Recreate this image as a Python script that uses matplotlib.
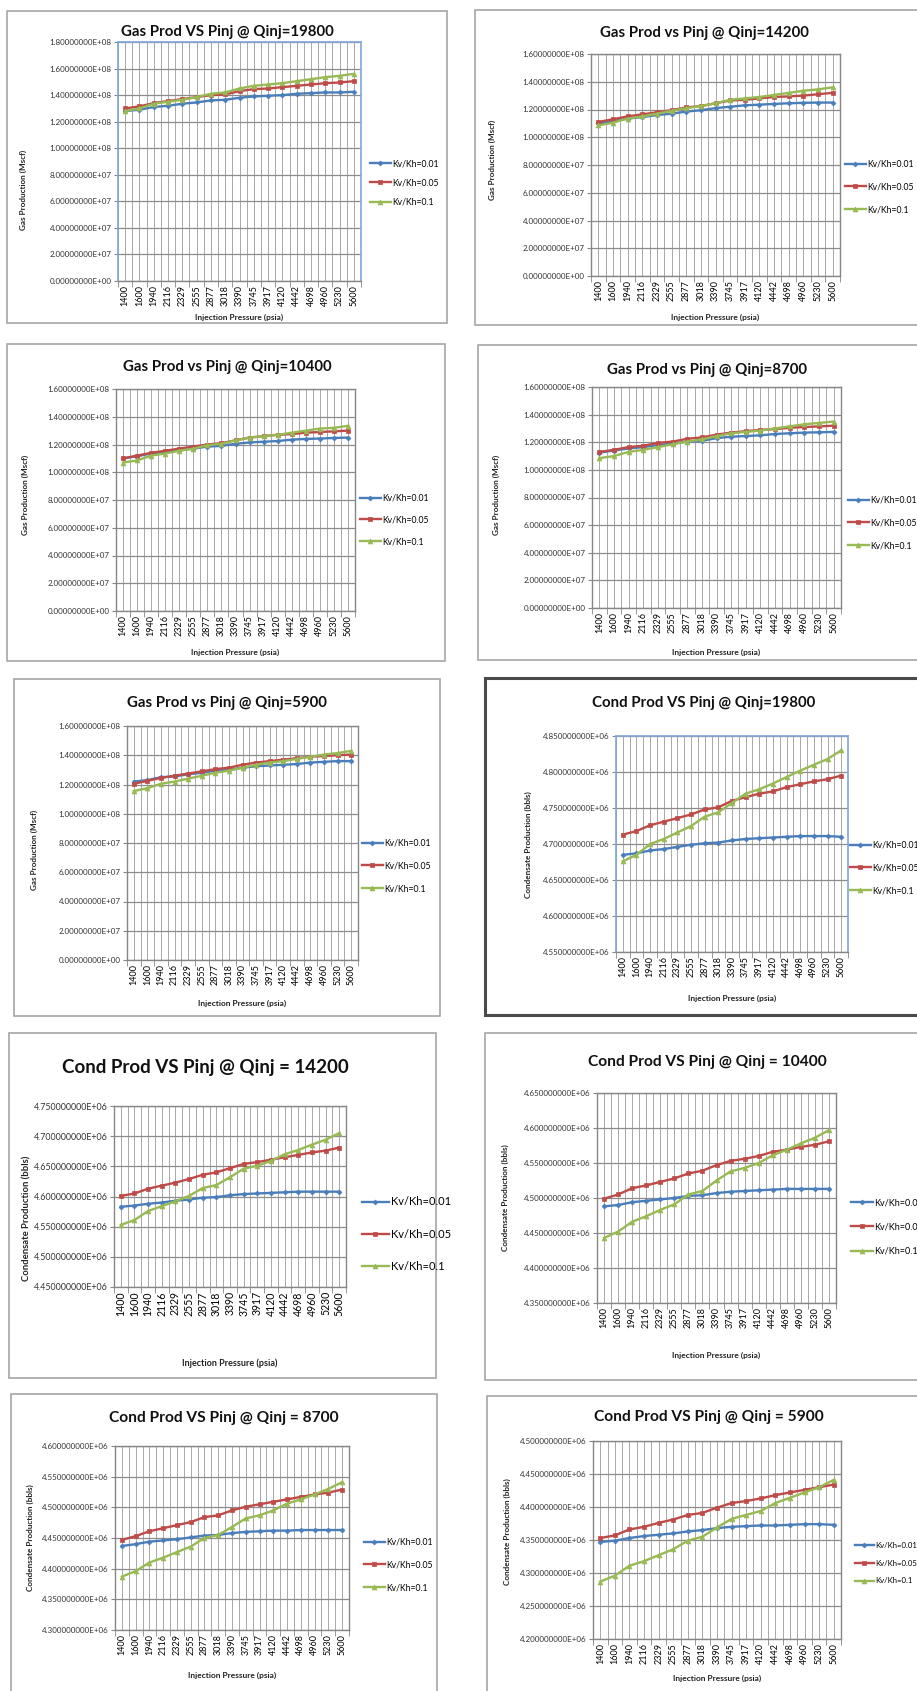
import numpy as np
import matplotlib.pyplot as plt
from matplotlib.patches import Rectangle
from matplotlib.ticker import FuncFormatter, FixedLocator

W, H = 917, 1691

pressures = ["1400", "1600", "1940", "2116", "2329", "2555", "2877", "3018", "3390",
             "3745", "3917", "4120", "4442", "4698", "4960", "5230", "5600"]
kvkh = ["Kv/Kh=0.01", "Kv/Kh=0.05", "Kv/Kh=0.1"]

# gas production, units of 1e8 Mscf
gas_19800_001 = [1.28, 1.29, 1.31, 1.32, 1.335, 1.345, 1.36, 1.365, 1.38, 1.39, 1.395, 1.40, 1.41, 1.415, 1.42, 1.42, 1.425]
gas_19800_005 = [1.30, 1.315, 1.34, 1.355, 1.37, 1.385, 1.40, 1.405, 1.43, 1.445, 1.45, 1.46, 1.47, 1.48, 1.49, 1.495, 1.505]
gas_19800_01 = [1.28, 1.30, 1.335, 1.35, 1.365, 1.385, 1.41, 1.42, 1.45, 1.47, 1.48, 1.49, 1.505, 1.52, 1.535, 1.545, 1.56]

gas_14200_001 = [1.10, 1.115, 1.135, 1.145, 1.16, 1.17, 1.185, 1.195, 1.21, 1.22, 1.23, 1.235, 1.24, 1.245, 1.248, 1.25, 1.25]
gas_14200_005 = [1.11, 1.13, 1.15, 1.165, 1.18, 1.195, 1.215, 1.225, 1.245, 1.265, 1.27, 1.28, 1.29, 1.295, 1.30, 1.31, 1.32]
gas_14200_01 = [1.085, 1.105, 1.135, 1.15, 1.17, 1.19, 1.21, 1.225, 1.245, 1.27, 1.28, 1.29, 1.305, 1.32, 1.335, 1.345, 1.36]

gas_10400_001 = [1.10, 1.115, 1.135, 1.145, 1.16, 1.17, 1.185, 1.19, 1.205, 1.215, 1.22, 1.225, 1.235, 1.24, 1.243, 1.247, 1.25]
gas_10400_005 = [1.10, 1.12, 1.14, 1.155, 1.17, 1.185, 1.20, 1.21, 1.23, 1.25, 1.26, 1.27, 1.275, 1.285, 1.29, 1.295, 1.30]
gas_10400_01 = [1.07, 1.085, 1.12, 1.135, 1.155, 1.17, 1.195, 1.205, 1.23, 1.25, 1.26, 1.27, 1.285, 1.30, 1.315, 1.32, 1.335]

gas_8700_001 = [1.125, 1.14, 1.155, 1.165, 1.18, 1.19, 1.205, 1.21, 1.23, 1.24, 1.245, 1.25, 1.26, 1.265, 1.27, 1.272, 1.275]
gas_8700_005 = [1.13, 1.145, 1.165, 1.175, 1.195, 1.205, 1.225, 1.235, 1.255, 1.27, 1.28, 1.29, 1.295, 1.305, 1.31, 1.315, 1.32]
gas_8700_01 = [1.085, 1.10, 1.13, 1.145, 1.165, 1.185, 1.205, 1.22, 1.245, 1.265, 1.275, 1.285, 1.30, 1.315, 1.33, 1.34, 1.35]

gas_5900_001 = [1.22, 1.23, 1.25, 1.255, 1.27, 1.28, 1.295, 1.30, 1.315, 1.325, 1.33, 1.335, 1.34, 1.35, 1.355, 1.36, 1.36]
gas_5900_005 = [1.205, 1.225, 1.245, 1.26, 1.275, 1.29, 1.305, 1.315, 1.335, 1.35, 1.36, 1.37, 1.38, 1.39, 1.395, 1.40, 1.405]
gas_5900_01 = [1.155, 1.175, 1.205, 1.22, 1.24, 1.26, 1.28, 1.295, 1.315, 1.335, 1.35, 1.36, 1.375, 1.39, 1.405, 1.415, 1.43]

# condensate production, units of 1e6 bbls
cond_19800_001 = [4.685, 4.687, 4.691, 4.693, 4.696, 4.699, 4.701, 4.702, 4.705, 4.707, 4.708, 4.709, 4.710, 4.711, 4.711, 4.711, 4.710]
cond_19800_005 = [4.713, 4.718, 4.726, 4.731, 4.736, 4.741, 4.748, 4.751, 4.760, 4.765, 4.770, 4.773, 4.779, 4.783, 4.787, 4.790, 4.795]
cond_19800_01 = [4.676, 4.685, 4.700, 4.707, 4.716, 4.725, 4.738, 4.744, 4.757, 4.770, 4.776, 4.784, 4.793, 4.802, 4.810, 4.818, 4.830]

cond_14200_001 = [4.583, 4.585, 4.588, 4.590, 4.593, 4.595, 4.598, 4.599, 4.602, 4.604, 4.605, 4.606, 4.607, 4.608, 4.608, 4.608, 4.608]
cond_14200_005 = [4.601, 4.605, 4.613, 4.618, 4.623, 4.629, 4.636, 4.640, 4.647, 4.654, 4.657, 4.661, 4.665, 4.669, 4.673, 4.676, 4.681]
cond_14200_01 = [4.553, 4.561, 4.576, 4.584, 4.592, 4.601, 4.614, 4.619, 4.632, 4.646, 4.651, 4.659, 4.670, 4.677, 4.686, 4.694, 4.705]

cond_10400_001 = [4.488, 4.490, 4.494, 4.496, 4.498, 4.500, 4.503, 4.504, 4.507, 4.509, 4.510, 4.511, 4.512, 4.513, 4.513, 4.513, 4.513]
cond_10400_005 = [4.499, 4.505, 4.514, 4.518, 4.523, 4.528, 4.535, 4.539, 4.547, 4.553, 4.556, 4.560, 4.566, 4.569, 4.573, 4.576, 4.581]
cond_10400_01 = [4.443, 4.452, 4.466, 4.474, 4.483, 4.491, 4.505, 4.510, 4.525, 4.538, 4.543, 4.550, 4.561, 4.569, 4.578, 4.586, 4.597]

cond_8700_001 = [4.437, 4.440, 4.444, 4.446, 4.448, 4.451, 4.454, 4.455, 4.458, 4.460, 4.461, 4.462, 4.462, 4.463, 4.463, 4.463, 4.463]
cond_8700_005 = [4.447, 4.453, 4.461, 4.466, 4.471, 4.476, 4.484, 4.487, 4.495, 4.501, 4.505, 4.509, 4.513, 4.517, 4.521, 4.524, 4.529]
cond_8700_01 = [4.387, 4.396, 4.410, 4.418, 4.427, 4.436, 4.450, 4.455, 4.468, 4.482, 4.487, 4.495, 4.506, 4.513, 4.521, 4.530, 4.541]

cond_5900_001 = [4.347, 4.349, 4.353, 4.356, 4.358, 4.360, 4.363, 4.365, 4.368, 4.370, 4.371, 4.372, 4.372, 4.373, 4.374, 4.374, 4.373]
cond_5900_005 = [4.353, 4.357, 4.366, 4.370, 4.376, 4.381, 4.388, 4.391, 4.399, 4.406, 4.409, 4.413, 4.418, 4.422, 4.426, 4.430, 4.434]
cond_5900_01 = [4.287, 4.296, 4.311, 4.318, 4.327, 4.336, 4.349, 4.355, 4.369, 4.382, 4.388, 4.394, 4.406, 4.414, 4.422, 4.430, 4.441]

colors = ["#4A7EBB", "#BE4B48", "#98B954"]
markers = ["D", "s", "^"]
msizes = [2.5, 3.5, 3.5]

plt.rcParams['font.family'] = ['Lato', 'DejaVu Sans']

fig = plt.figure(figsize=(W / 100, H / 100), dpi=100)
fig.patch.set_facecolor("white")


def fx(x):
    return x / W


def fy(y):
    return 1 - y / H


def chart(frame, plot, title, title_xy, tsize, ylabel, ylab_xy, xlab_y, leg_xy, leg_sp, lsize,
          series, scale, ylim, ystep, dec, blue_box=False, dark_frame=False, big=False):
    x0, y0, x1, y1 = frame
    ec = "#4A4A4A" if dark_frame else "#A6A6A6"
    fig.patches.append(Rectangle((fx(x0), fy(y1)), fx(x1) - fx(x0), fy(y0) - fy(y1),
                                 transform=fig.transFigure, facecolor="white", edgecolor=ec,
                                 linewidth=2.2 if dark_frame else 1.2, zorder=-5))
    px0, py0, px1, py1 = plot
    ax = fig.add_axes([fx(px0), fy(py1), fx(px1) - fx(px0), fy(py0) - fy(py1)])
    xs = np.arange(len(pressures)) + 0.5
    handles = []
    for s, c, m, ms in zip(series, colors, markers, msizes):
        h, = ax.plot(xs, np.array(s) * scale, color=c, lw=1.7, marker=m, ms=ms,
                     markeredgewidth=0.5, clip_on=False)
        handles.append(h)
    ax.set_xlim(0, len(pressures))
    ax.set_ylim(ylim[0] * scale, ylim[1] * scale)
    yt = np.arange(ylim[0], ylim[1] + ystep / 2, ystep) * scale
    ax.yaxis.set_major_locator(FixedLocator(yt))
    ax.yaxis.set_major_formatter(FuncFormatter(lambda v, _: f"{v:.{dec}E}"))
    ax.set_xticks(xs)
    ax.set_xticklabels(pressures, rotation=90, fontsize=7.6 if big else 6.5)
    ax.xaxis.set_minor_locator(FixedLocator(np.arange(len(pressures) + 1)))
    ax.tick_params(axis="x", which="major", length=0, pad=3)
    ax.tick_params(axis="x", which="minor", length=4, color="#868686")
    ax.tick_params(axis="y", length=3, color="#868686", labelsize=6.4 if big else 5.8,
                   labelcolor="#333333", pad=1.5)
    ax.grid(True, axis="y", color="#8C8C8C", lw=0.9)
    ax.grid(True, axis="x", which="both", color="#9A9A9A", lw=0.6)
    ax.set_axisbelow(True)
    for sp in ax.spines.values():
        sp.set_color("#868686")
        sp.set_linewidth(1.0)
    if blue_box:
        for k in ["left", "top", "right"]:
            ax.spines[k].set_color("#7EA6D8")
            ax.spines[k].set_linewidth(1.2)
    fig.text(fx(title_xy[0]), fy(title_xy[1]), title, ha="center", va="center",
             fontsize=tsize, fontweight="bold", color="#111111")
    fig.text(fx(ylab_xy[0]), fy(ylab_xy[1]), ylabel, ha="center", va="center", rotation=90,
             fontsize=6.8 if big else 5.9, fontweight="bold", color="#222222")
    fig.text(fx((px0 + px1) / 2), fy(xlab_y), "Injection Pressure (psia)", ha="center",
             va="center", fontsize=6.5 if big else 6.0, fontweight="bold", color="#222222")
    ax.legend(handles, kvkh, loc="center left", bbox_to_anchor=(fx(leg_xy[0]), fy(leg_xy[1])),
              bbox_transform=fig.transFigure, frameon=False, fontsize=lsize,
              labelspacing=leg_sp, handlelength=2.4, handletextpad=0.2, borderpad=0,
              borderaxespad=0)
    return ax


gy = "Gas Production (Mscf)"
cy = "Condensate Production (bbls)"

chart((7, 11, 447, 323), (118, 42, 361, 281), "Gas Prod VS Pinj @ Qinj=19800", (227, 32), 10.8,
      gy, (23, 190), 317, (370, 183), 1.2, 6.2,
      (gas_19800_001, gas_19800_005, gas_19800_01), 1e8, (0, 1.8), 0.2, 8, blue_box=True)
chart((475, 10, 925, 325), (591, 54, 840, 276), "Gas Prod vs Pinj @ Qinj=14200", (704, 33), 10.8,
      gy, (492, 160), 317, (845, 187), 1.6, 6.2,
      (gas_14200_001, gas_14200_005, gas_14200_01), 1e8, (0, 1.6), 0.2, 8)
chart((7, 344, 445, 661), (116, 389, 355, 611), "Gas Prod vs Pinj @ Qinj=10400", (227, 367), 10.8,
      gy, (25, 495), 652, (360, 520), 1.5, 6.2,
      (gas_10400_001, gas_10400_005, gas_10400_01), 1e8, (0, 1.6), 0.2, 8)
chart((478, 345, 925, 660), (592, 387, 841, 608), "Gas Prod vs Pinj @ Qinj=8700", (707, 370), 10.8,
      gy, (496, 495), 652, (848, 523), 1.6, 6.2,
      (gas_8700_001, gas_8700_005, gas_8700_01), 1e8, (0, 1.6), 0.2, 8)
chart((14, 679, 440, 1016), (127, 726, 358, 960), "Gas Prod vs Pinj @ Qinj=5900", (227, 703), 10.8,
      gy, (34, 850), 1003, (362, 866), 1.6, 6.2,
      (gas_5900_001, gas_5900_005, gas_5900_01), 1e8, (0, 1.6), 0.2, 8)
chart((485, 678, 925, 1015), (616, 736, 848, 952), "Cond Prod VS Pinj @ Qinj=19800", (704, 703), 10.8,
      cy, (528, 845), 998, (850, 868), 1.6, 6.2,
      (cond_19800_001, cond_19800_005, cond_19800_01), 1e6, (4.55, 4.85), 0.05, 9,
      blue_box=True, dark_frame=True)
chart((9, 1033, 436, 1378), (114, 1106, 346, 1287), "Cond Prod VS Pinj @ Qinj = 14200", (205, 1067), 13.5,
      cy, (27, 1218), 1363, (362, 1234), 1.9, 8,
      (cond_14200_001, cond_14200_005, cond_14200_01), 1e6, (4.45, 4.75), 0.05, 9, big=True)
chart((485, 1033, 925, 1380), (597, 1093, 836, 1303), "Cond Prod VS Pinj @ Qinj = 10400", (707, 1062), 11.2,
      cy, (505, 1198), 1355, (851, 1227), 1.7, 6.5,
      (cond_10400_001, cond_10400_005, cond_10400_01), 1e6, (4.35, 4.65), 0.05, 9)
chart((11, 1394, 437, 1700), (115, 1446, 349, 1630), "Cond Prod VS Pinj @ Qinj = 8700", (224, 1418), 11.2,
      cy, (30, 1538), 1675, (364, 1565), 1.6, 6.2,
      (cond_8700_001, cond_8700_005, cond_8700_01), 1e6, (4.30, 4.60), 0.05, 9)
chart((487, 1396, 925, 1700), (593, 1441, 841, 1639), "Cond Prod VS Pinj @ Qinj = 5900", (709, 1417), 11.2,
      cy, (507, 1532), 1678, (855, 1563), 1.4, 5.6,
      (cond_5900_001, cond_5900_005, cond_5900_01), 1e6, (4.20, 4.50), 0.05, 9)

fig.savefig("out.png", dpi=100, facecolor="white")
